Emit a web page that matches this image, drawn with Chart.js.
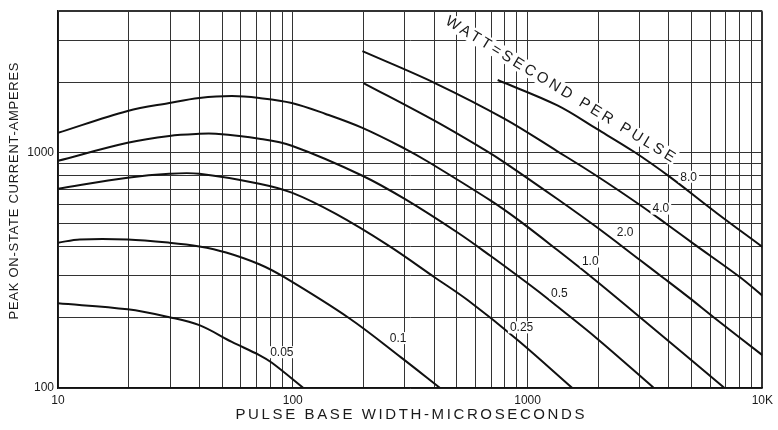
<!DOCTYPE html>
<html><head><meta charset="utf-8">
<script src="https://cdn.jsdelivr.net/npm/chart.js@4/dist/chart.umd.min.js"></script>
<style>html,body{margin:0;padding:0;background:#fff;}</style>
</head><body>
<canvas id="c" width="778" height="430"></canvas>
<script>
// ---- axis ticks / labels ----
const xGridValues = [10,20,30,40,50,60,70,80,90,100,200,300,400,500,600,700,800,900,1000,2000,3000,4000,5000,6000,7000,8000,9000,10000];
const xLabelValues = [10,100,1000,10000];
const xLabelTexts = ['10','100','1000','10K'];
const yGridValues = [100,200,300,400,500,600,700,800,900,1000,2000,3000,4000];
const yLabelValues = [100,1000];
const yLabelTexts = ['100','1000'];
const xTitle = 'PULSE BASE WIDTH-MICROSECONDS';
const yTitle = 'PEAK ON-STATE CURRENT-AMPERES';
const noteText = 'WATT=SECOND PER PULSE';

// ---- series (pulse width in microseconds, peak current in amperes) ----
const seriesNames = ['8.0','4.0','2.0','1.0','0.5','0.25','0.1','0.05'];
const x8 = [746,1340,1980,2841,4036,6385,10000];
const y8 = [2039,1590,1260,1010,790,555,398];
const x4 = [198,403,799,1340,1980,3012,3919,5101,7990,10000];
const y4 = [2705,1980,1394,1015,795,600,497,410,297,247];
const x2 = [200,403,657,799,1340,1980,3012,3806,4906,6201,10000];
const y2 = [1980,1366,1029,909,636,481,350,293,241,200,138];
const x1 = [10,19.8,29.8,40,55,72,99,138,198,301,377,697,907,1340,1922,3012,6902];
const y1 = [1216,1507,1629,1710,1743,1710,1629,1463,1276,1040,916,626,521,386,290,200,100];
const x05 = [10,19.8,29.8,40,47,72,99,198,301,505,697,907,1103,1340,1980,3453];
const y05 = [925,1103,1180,1204,1204,1147,1071,799,635,457,364,300,259,222,162,100];
const x025 = [10,19.8,29.8,40,72,99,152,255,403,557,907,1551];
const y025 = [704,784,815,815,739,677,551,404,295,236,160,100];
const x01 = [10,12.4,19.8,29.8,40,52,72,92,174,289,424];
const y01 = [415,428,428,415,400,377,336,296,198,135,100];
const x005 = [10,19.8,29.8,40,55,72,81.5,111];
const y005 = [229,216,200,185,157,138,128,100];
const seriesX = [x8,x4,x2,x1,x05,x025,x01,x005];
const seriesY = [y8,y4,y2,y1,y05,y025,y01,y005];

// curve label anchors (data units)
const curveLabelX = [4857,3697,2602,1849,1367,943,281,89.8];
const curveLabelY = [791,579,458,345,253,181,163,142];
// rotated note: first/last character centres (data units)
const noteStartX = 481, noteStartY = 3554, noteEndX = 4036, noteEndY = 971;

const FONT = "'Liberation Sans', Arial, sans-serif";
const INK = '#1a1a1a';

function drawSpaced(ctx, text, cx, cy, target, font) {
  ctx.font = font;
  ctx.letterSpacing = '0px';
  const w0 = ctx.measureText(text).width;
  const s = (target - w0) / (text.length - 1);
  if ('letterSpacing' in ctx) ctx.letterSpacing = s + 'px';
  ctx.textAlign = 'left';
  ctx.textBaseline = 'middle';
  const w = ('letterSpacing' in ctx) ? target : w0;
  ctx.fillText(text, cx - w / 2, cy);
  if ('letterSpacing' in ctx) ctx.letterSpacing = '0px';
}

const annotate = {
  id: 'annotate',
  afterDatasetsDraw(chart) {
    const ctx = chart.ctx, xs = chart.scales.x, ys = chart.scales.y;
    ctx.save();
    // curve labels
    ctx.font = '12px ' + FONT;
    ctx.textAlign = 'center';
    ctx.textBaseline = 'middle';
    seriesNames.forEach((t, i) => {
      const px = xs.getPixelForValue(curveLabelX[i]);
      const py = ys.getPixelForValue(curveLabelY[i]);
      const w = ctx.measureText(t).width;
      ctx.fillStyle = '#fff';
      ctx.fillRect(px - w / 2 - 2, py - 6, w + 4, 12);
      ctx.fillStyle = INK;
      ctx.fillText(t, px, py + 0.5);
    });
    // rotated note
    const ax = xs.getPixelForValue(noteStartX), ay = ys.getPixelForValue(noteStartY);
    const bx = xs.getPixelForValue(noteEndX), by = ys.getPixelForValue(noteEndY);
    const ang = Math.atan2(by - ay, bx - ax), L = Math.hypot(bx - ax, by - ay);
    ctx.translate(ax, ay);
    ctx.rotate(ang);
    const nf = '15px ' + FONT;
    ctx.font = nf;
    ctx.letterSpacing = '0px';
    const wf = ctx.measureText(noteText[0]).width;
    const wl = ctx.measureText(noteText[noteText.length - 1]).width;
    const target = L + (wf + wl) / 2;
    ctx.fillStyle = '#fff';
    ctx.fillRect(-wf / 2 - 2, -8, target + 4, 16);
    ctx.fillStyle = INK;
    drawSpaced(ctx, noteText, -wf / 2 + target / 2, 0.5, target, nf);
    ctx.restore();
  },
  afterDraw(chart) {
    const ctx = chart.ctx;
    ctx.save();
    ctx.fillStyle = INK;
    drawSpaced(ctx, xTitle, 410, 415, 349, '15px ' + FONT);
    ctx.translate(14, 191);
    ctx.rotate(-Math.PI / 2);
    drawSpaced(ctx, yTitle, 0, 0, 257, '13px ' + FONT);
    ctx.restore();
  }
};

const datasets = seriesNames.map((name, i) => ({
  label: name,
  data: seriesX[i].map((x, j) => ({ x: x, y: seriesY[i][j] })),
  showLine: true,
  borderColor: '#111',
  borderWidth: 2,
  pointRadius: 0,
  fill: false,
  tension: 0.35
}));

new Chart(document.getElementById('c').getContext('2d'), {
  type: 'scatter',
  data: { datasets: datasets },
  options: {
    responsive: false,
    animation: false,
    devicePixelRatio: 1,
    layout: { padding: { left: 0, right: 12, top: 10, bottom: 0 } },
    plugins: { legend: { display: false }, tooltip: { enabled: false } },
    scales: {
      x: {
        type: 'logarithmic', min: 10, max: 10000,
        afterBuildTicks: s => { s.ticks = xGridValues.map(v => ({ value: v })); },
        afterFit: s => { s.height = 42; },
        ticks: {
          autoSkip: false, maxRotation: 0, minRotation: 0, padding: 5, color: INK,
          font: { family: FONT, size: 12 },
          callback: v => { const k = xLabelValues.indexOf(Number(v)); return k >= 0 ? xLabelTexts[k] : ''; }
        },
        grid: { color: '#333', lineWidth: c => (c.tick && c.tick.value === 10000) ? 2 : 1, drawTicks: false },
        border: { color: '#111', width: 1.5 }
      },
      y: {
        type: 'logarithmic', min: 100, max: 4000,
        afterBuildTicks: s => { s.ticks = yGridValues.map(v => ({ value: v })); },
        afterFit: s => { s.width = 58; },
        ticks: {
          autoSkip: false, padding: 4, color: INK,
          font: { family: FONT, size: 12 },
          callback: v => { const k = yLabelValues.indexOf(Number(v)); return k >= 0 ? yLabelTexts[k] : ''; }
        },
        grid: { color: '#333', lineWidth: c => (c.tick && c.tick.value === 4000) ? 2 : 1, drawTicks: false },
        border: { color: '#111', width: 1.5 }
      }
    }
  },
  plugins: [annotate]
});
</script>
</body></html>
